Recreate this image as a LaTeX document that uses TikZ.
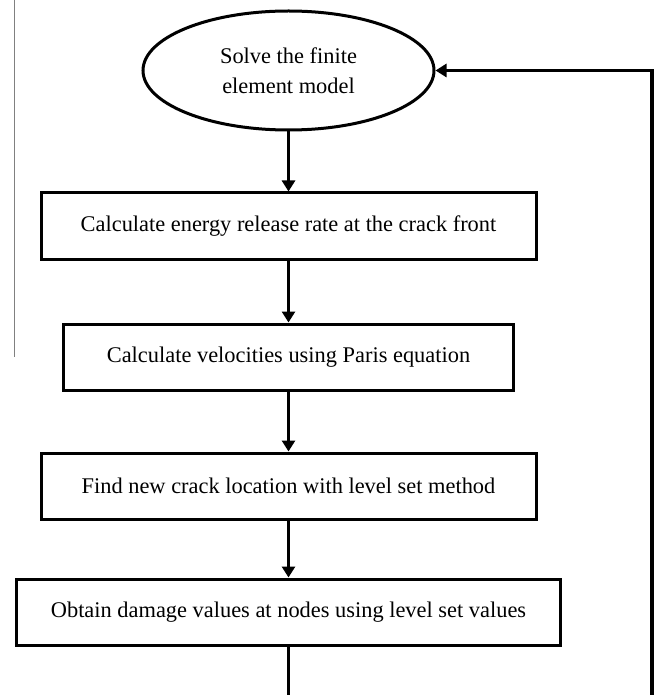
\documentclass[tikz,border=0pt]{standalone}
\usepackage{fontspec}
\setmainfont{Liberation Serif}
\usetikzlibrary{positioning,arrows.meta,shapes.geometric}
\tikzstyle{ebox}=[ellipse, draw=black, line width=1.5pt, minimum width=145.5pt,
                  minimum height=59.5pt, inner sep=0pt, align=center,
                  font=\fontsize{11.2}{15}\selectfont]
\tikzstyle{cbox}=[rectangle, draw=black, line width=1.5pt, minimum height=33pt,
                  inner sep=2pt, text centered, font=\fontsize{11.2}{13}\selectfont]
\tikzstyle{pline}=[-, line width=1.9pt]
\tikzstyle{parrow}=[-{Triangle[length=5.5pt,width=6.5pt]}, line width=1.9pt]

\begin{document}
\begin{tikzpicture}[x=0.5pt, y=-0.5pt, node distance=0mm]
\useasboundingbox (0,0) rectangle (654,695);

\draw[gray, line width=0.5pt] (14,0) -- (14,357);

\node (SOLVE) [ebox] at (288.5,70.5) {Solve the finite\\element model};
\node (ENERGY) [cbox, minimum width=247.5pt, below=30pt of SOLVE] {Calculate energy release rate at the crack front};
 \draw[parrow] (SOLVE) -- (ENERGY);
\node (VELOC) [cbox, minimum width=225pt, below=31pt of ENERGY] {Calculate velocities using Paris equation};
 \draw[parrow] (ENERGY) -- (VELOC);
\node (CRACKLOC) [cbox, minimum width=247.5pt, below=30pt of VELOC] {Find new crack location with level set method};
 \draw[parrow] (VELOC) -- (CRACKLOC);
\node (DAMAGE) [cbox, minimum width=272pt, below=28.5pt of CRACKLOC] {Obtain damage values at nodes using level set values};
 \draw[parrow] (CRACKLOC) -- (DAMAGE);

\coordinate (CUTL) at (288.5,695);
\coordinate (CUTR) at (652,695);
 \draw[pline] (DAMAGE) -- (CUTL);
 \draw[parrow] (CUTR) |- (SOLVE.east);

\end{tikzpicture}
\end{document}
